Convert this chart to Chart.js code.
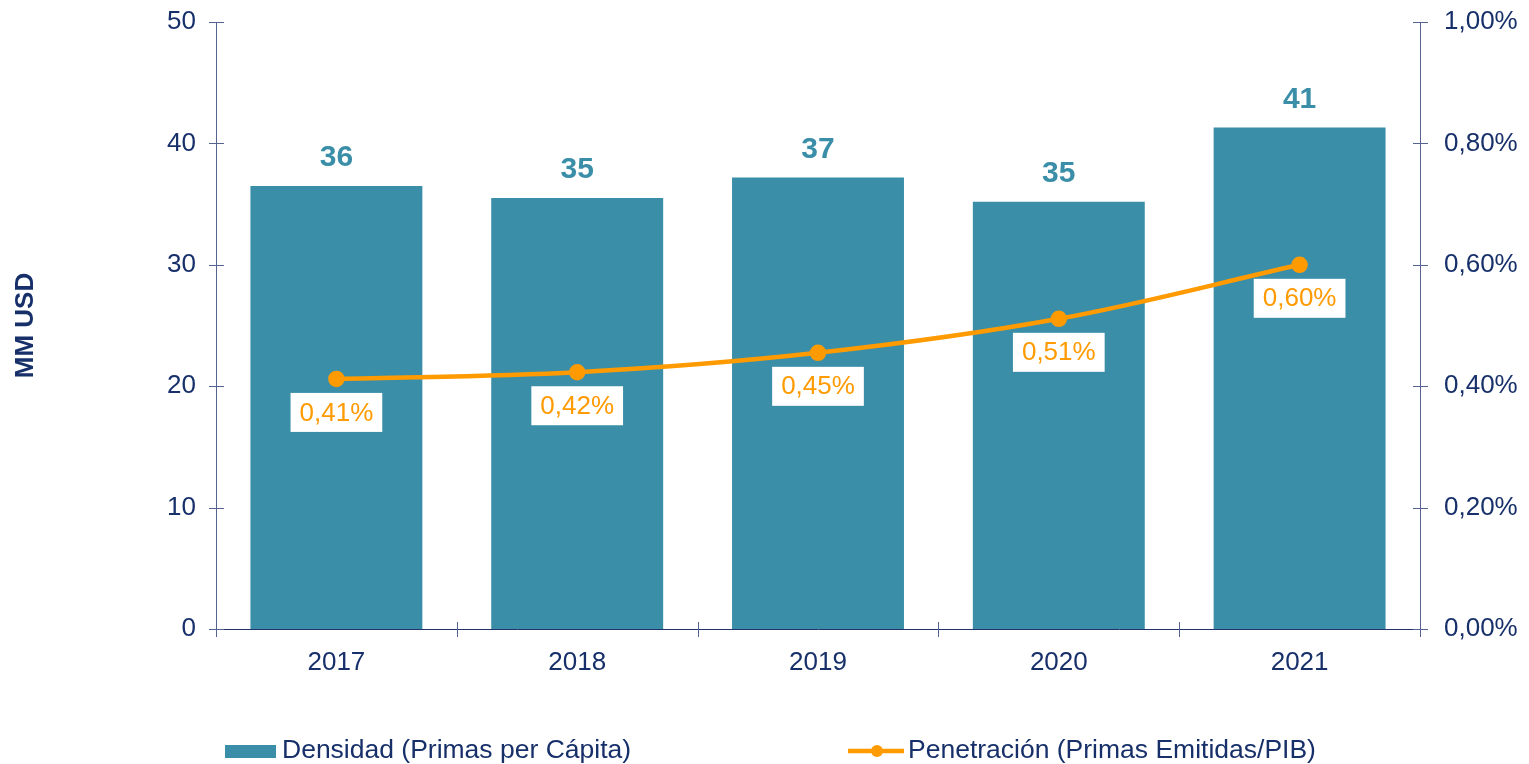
<!DOCTYPE html>
<html lang="es">
<head>
<meta charset="utf-8">
<title>Densidad y Penetración</title>
<script src="https://cdn.jsdelivr.net/npm/chart.js@4.4.1/dist/chart.umd.min.js"></script>
<style>
  html, body { margin: 0; padding: 0; background: #fff; }
  #wrap { width: 1529px; height: 764px; position: relative; }
</style>
</head>
<body>
<div id="wrap"><canvas id="grafico"></canvas></div>
<script>
// datos
const years = ['2017', '2018', '2019', '2020', '2021'];
const densidad = [36.5, 35.5, 37.2, 35.2, 41.3];          // MM USD
const densidadLabels = ['36', '35', '37', '35', '41'];
const penetracion = [0.412, 0.423, 0.455, 0.511, 0.600];  // % del PIB
const penetracionLabels = ['0,41%', '0,42%', '0,45%', '0,51%', '0,60%'];
const leftTicks = [0, 10, 20, 30, 40, 50];
const rightTicks = [0, 0.2, 0.4, 0.6, 0.8, 1.0];

const COLOR_BAR = '#3A8EA8';
const COLOR_LINE = '#FF9A00';
const COLOR_TEXT = '#17306A';
const COLOR_AXIS = '#55648F';
const FONT = "'Liberation Sans', Arial, sans-serif";

Chart.defaults.font.family = FONT;
Chart.defaults.font.size = 26;
Chart.defaults.color = COLOR_TEXT;

// marcas de eje que cruzan la línea, etiquetas y leyenda
const decorPlugin = {
    id: 'decor',
    afterDatasetsDraw(chart) {
        const ctx = chart.ctx;
        const bars = chart.getDatasetMeta(0).data;
        const pts = chart.getDatasetMeta(1).data;
        ctx.save();

        // etiquetas de las barras
        ctx.font = "bold 30px " + FONT;
        ctx.fillStyle = COLOR_BAR;
        ctx.textAlign = 'center';
        ctx.textBaseline = 'middle';
        bars.forEach((b, i) => ctx.fillText(densidadLabels[i], b.x, b.y - 28));

        // etiquetas de la línea (caja blanca)
        ctx.font = "26px " + FONT;
        pts.forEach((p, i) => {
            const w = ctx.measureText(penetracionLabels[i]).width + 18;
            const h = 39;
            const top = p.y + 14;
            ctx.fillStyle = '#fff';
            ctx.fillRect(p.x - w / 2, top, w, h);
            ctx.fillStyle = COLOR_LINE;
            ctx.fillText(penetracionLabels[i], p.x, top + h / 2 + 1);
        });
        ctx.restore();
    },
    afterDraw(chart) {
        const ctx = chart.ctx;
        const area = chart.chartArea;
        const x = chart.scales.x;
        ctx.save();
        ctx.strokeStyle = COLOR_AXIS;
        ctx.lineWidth = 1;
        ctx.beginPath();
        chart.scales.y.ticks.forEach(t => {
            const py = Math.round(chart.scales.y.getPixelForValue(t.value)) + 0.5;
            ctx.moveTo(area.left - 7, py); ctx.lineTo(area.left + 8, py);
        });
        chart.scales.y1.ticks.forEach(t => {
            const py = Math.round(chart.scales.y1.getPixelForValue(t.value)) + 0.5;
            ctx.moveTo(area.right - 7, py); ctx.lineTo(area.right + 8, py);
        });
        const half = (x.getPixelForValue(1) - x.getPixelForValue(0)) / 2;
        for (let i = 0; i <= years.length; i++) {
            const px = Math.round(x.getPixelForValue(i) - half) + 0.5;
            ctx.moveTo(px, area.bottom - 7); ctx.lineTo(px, area.bottom + 8);
        }
        ctx.stroke();

        // leyenda
        const ly = 751;
        ctx.font = "26.5px " + FONT;
        ctx.textBaseline = 'middle';
        ctx.textAlign = 'left';
        ctx.fillStyle = COLOR_BAR;
        ctx.fillRect(225, ly - 6, 51, 13);
        ctx.fillStyle = COLOR_TEXT;
        ctx.fillText(chart.data.datasets[0].label, 282, ly);

        ctx.strokeStyle = COLOR_LINE;
        ctx.lineWidth = 4.5;
        ctx.beginPath();
        ctx.moveTo(848, ly); ctx.lineTo(904, ly);
        ctx.stroke();
        ctx.fillStyle = COLOR_LINE;
        ctx.beginPath();
        ctx.arc(877, ly, 6, 0, Math.PI * 2);
        ctx.fill();
        ctx.fillStyle = COLOR_TEXT;
        ctx.fillText(chart.data.datasets[1].label, 908, ly);
        ctx.restore();
    }
};

const pct = v => v.toFixed(2).replace('.', ',') + '%';

// ancho fijo para los ejes verticales, sin relleno extra arriba/abajo
const fixWidth = w => s => {
    s.width = w;
    s.paddingTop = 0;
    s.paddingBottom = 0;
};

new Chart(document.getElementById('grafico'), {
    type: 'bar',
    data: {
        labels: years,
        datasets: [
            {
                type: 'bar',
                label: 'Densidad (Primas per Cápita)',
                data: densidad,
                backgroundColor: COLOR_BAR,
                barPercentage: 0.714,
                categoryPercentage: 1,
                yAxisID: 'y',
                order: 2
            },
            {
                type: 'line',
                label: 'Penetración (Primas Emitidas/PIB)',
                data: penetracion,
                borderColor: COLOR_LINE,
                backgroundColor: COLOR_LINE,
                borderWidth: 4.5,
                pointRadius: 6,
                pointHoverRadius: 6,
                tension: 0.35,
                yAxisID: 'y1',
                order: 1
            }
        ]
    },
    options: {
        responsive: true,
        maintainAspectRatio: false,
        animation: false,
        layout: { padding: { top: 22, left: 0, right: 0, bottom: 0 } },
        plugins: {
            legend: { display: false },
            tooltip: { enabled: false }
        },
        scales: {
            x: {
                offset: true,
                grid: { display: false, drawTicks: false },
                border: { display: true, color: '#22336A' },
                ticks: { padding: 18, color: COLOR_TEXT },
                afterFit: s => { s.height = 135; }
            },
            y: {
                position: 'left',
                min: 0, max: 50,
                afterBuildTicks: s => { s.ticks = leftTicks.map(v => ({ value: v })); },
                grid: { display: false, drawTicks: false },
                border: { display: true, color: COLOR_AXIS },
                ticks: { padding: 20, color: COLOR_TEXT },
                title: {
                    display: true,
                    text: 'MM USD',
                    color: COLOR_TEXT,
                    font: { weight: 'bold', size: 26 },
                    padding: { top: 10, bottom: 0 }
                },
                afterFit: fixWidth(216)
            },
            y1: {
                position: 'right',
                min: 0, max: 1,
                afterBuildTicks: s => { s.ticks = rightTicks.map(v => ({ value: v })); },
                grid: { display: false, drawTicks: false },
                border: { display: true, color: COLOR_AXIS },
                ticks: { padding: 24, color: COLOR_TEXT, callback: v => pct(v) },
                afterFit: fixWidth(109)
            }
        }
    },
    plugins: [decorPlugin]
});
</script>
</body>
</html>
